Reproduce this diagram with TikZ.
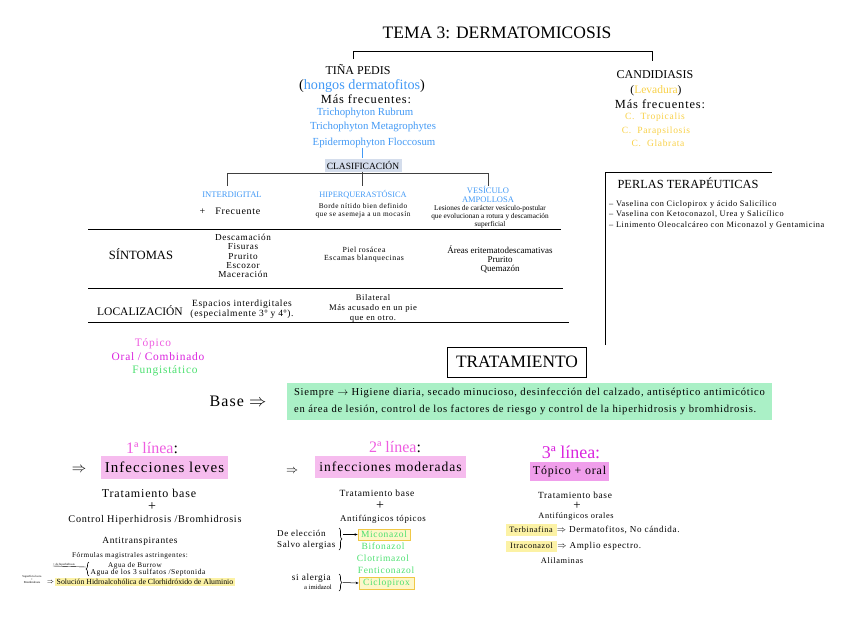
\documentclass[tikz,border=0pt]{standalone}
\usepackage{fontspec}
\setmainfont{Liberation Serif}
\usetikzlibrary{arrows.meta,positioning,calc,decorations.pathreplacing}
\definecolor{fungBlue}{RGB}{66,153,245}
\definecolor{levYellow}{RGB}{248,208,70}
\definecolor{lineMag}{RGB}{238,92,224}
\definecolor{oralMag}{RGB}{218,36,222}
\definecolor{drugGreen}{RGB}{76,224,112}
\definecolor{pinkBox}{RGB}{246,188,238}
\definecolor{baseGreen}{RGB}{170,240,198}
\definecolor{hiYellow}{RGB}{252,242,165}
\definecolor{boxYellow}{RGB}{240,200,70}
\definecolor{clasBox}{RGB}{212,221,236}
% plain size, and size with the loose tracking of the handout
\newcommand{\fsz}[1]{\fontsize{#1}{#1}\selectfont}
\newcommand{\fszb}[2]{\fontsize{#1}{#2}\selectfont}
\newcommand{\fsp}[1]{\fontsize{#1}{#1}\selectfont\addfontfeature{LetterSpace=7}}
\newcommand{\fspb}[2]{\fontsize{#1}{#2}\selectfont\addfontfeature{LetterSpace=7}}
\tikzset{dermpanel/.style={
  every node/.style={inner sep=0pt, align=center},
  hilite/.style={fill=pinkBox, inner sep=2pt},
  drug/.style={text=drugGreen, font=\fsp{9.5}},
  drugbox/.style={drug, draw=boxYellow, fill=hiYellow!60, line width=0.8pt, inner xsep=2pt, inner ysep=1.5pt},
  ybox/.style={fill=hiYellow, inner xsep=1.5pt, inner ysep=1.5pt},
  plussign/.style={font=\fsz{14}},
  tabline/.style={line width=0.9pt},
  link/.style={-{Stealth[length=3pt,width=2.5pt]}, line width=0.5pt},
  curly/.style={decorate, decoration={brace, amplitude=3pt}, line width=0.6pt},
}}

\begin{document}
\begin{tikzpicture}[x=1pt, y=-1pt, dermpanel]
\useasboundingbox (0,0) rectangle (848,616);

% ---- title and the two branches ----
\node[font=\fsz{17.5}] (tema) at (497,33) {TEMA 3: DERMATOMICOSIS};
\coordinate (legL) at (353,59);
\coordinate (legR) at (652,61);
\draw[line width=0.9pt] (legL) -- ++(0,-8) -| (legR);

% ---- tiña pedis ----
\node[font=\fsz{12}] (tina) at (358,70) {TIÑA PEDIS};
\node[font=\fsz{14.2}] (hongos) at (362,86) {(\textcolor{fungBlue}{hongos dermatofitos})};
\node[font=\fsp{12.4}] (masfrec) at (366,99) {Más frecuentes:};
\node[font=\fsz{10.8}, text=fungBlue] (rubrum) at (365,113) {Trichophyton Rubrum};
\node[font=\fsz{10.8}, text=fungBlue] (metagro) at (373,127) {Trichophyton Metagrophytes};
\node[font=\fsz{10.8}, text=fungBlue] (epider) at (374,143) {Epidermophyton Floccosum};

% ---- candidiasis ----
\node[font=\fsz{12}] (candi) at (655,75) {CANDIDIASIS};
\node[font=\fsz{11.5}] (levad) at (656,91) {(\textcolor{levYellow}{Levadura})};
\node[font=\fsp{12.4}] (masfrecC) at (660,104) {Más frecuentes:};
\node[font=\fsp{9.5}, text=levYellow] (tropic) at (655,117) {C.\ \ Tropicalis};
\node[font=\fsp{9.5}, text=levYellow] (paraps) at (656,131) {C.\ \ Parapsilosis};
\node[font=\fsp{9.5}, text=levYellow] (glabr) at (658,143) {C.\ \ Glabrata};

% ---- clasificación ----
\node[fill=clasBox, font=\fsz{9.5}, minimum width=77, minimum height=13] (clasif) at (363,165) {CLASIFICACIÓN};
\draw[fungBlue, line width=0.7pt] (clasif.north -| 362,0) -- ++(0,-10);
\coordinate (cL) at (227,186);
\coordinate (cR) at (488,186);
\draw[line width=0.9pt, black!75] (cL) -- ++(0,-13) -| (cR);
\draw[line width=0.9pt, black!75] (clasif.south -| 362,0) -- (362,186);

\node[font=\fsz{8.6}, text=fungBlue] (interd) at (232,195) {INTERDIGITAL};
\node[font=\fsp{10}] (frec) at (230,211) {+\quad Frecuente};
\node[font=\fsz{8.3}, text=fungBlue] (hiper) at (363,195) {HIPERQUERASTÓSICA};
\node[font={\fspb{7.3}{8}}] (borde) at (363,211) {Borde nítido bien definido\\que se asemeja a un mocasín};
\node[font={\fszb{8.5}{9}}, text=fungBlue] (vesic) at (488,194) {VESÍCULO\\AMPOLLOSA};
\node[font={\fszb{7.3}{8}}] (lesion) at (490,217) {Lesiones de carácter vesículo-postular\\que evolucionan a rotura y descamación\\superficial};

% ---- table: síntomas / localización ----
\draw[tabline] (88,229) -- (561,229);
\draw[tabline] (88,288) -- (563,288);
\draw[tabline] (88,322) -- (569,322);

\node[font=\fsz{12.6}] (sintomas) at (141,254) {SÍNTOMAS};
\node[font={\fspb{9.2}{9.3}}] (sint1) at (243,256) {Descamación\\Fisuras\\Prurito\\Escozor\\Maceración};
\node[font={\fspb{7.8}{8}}] (sint2) at (364,255) {Piel rosácea\\Escamas blanquecinas};
\node[font={\fszb{9}{9}}] (sint3) at (500,259) {Áreas eritematodescamativas\\Prurito\\Quemazón};

\node[font=\fsz{11.5}] (loca) at (140,311) {LOCALIZACIÓN};
\node[font={\fspb{9.5}{10}}] (loc1) at (242,309) {Espacios interdigitales\\(especialmente 3º y 4º).};
\node[font={\fspb{8.6}{10}}] (loc2) at (373,308) {Bilateral\\Más acusado en un pie\\que en otro.};

% ---- perlas terapéuticas ----
\coordinate (perTop) at (772,172);
\coordinate (perBot) at (605,345);
\draw[line width=0.8pt] (perBot) |- (perTop);
\node[font=\fsz{12.4}] (perlas) at (688,183) {PERLAS TERAPÉUTICAS};
\node[font=\fsp{8.3}, anchor=west] (perla1) at (609,205) {– Vaselina con Ciclopirox y ácido Salicílico};
\node[font=\fsp{8.3}, anchor=west] (perla2) at (609,215) {– Vaselina con Ketoconazol, Urea y Salicílico};
\node[font=\fsp{8.3}, anchor=west] (perla3) at (609,226) {– Linimento Oleocalcáreo con Miconazol y Gentamicina};

% ---- tratamiento ----
\node[font=\fsp{11.4}, text=lineMag] (topico) at (153,344) {Tópico};
\node[font=\fsp{11.4}, text=oralMag] (oral) at (158,357) {Oral / Combinado};
\node[font=\fsp{11.4}, text=drugGreen] (fungis) at (165,371) {Fungistático};
\node[draw, line width=0.8pt, font=\fsz{17.4}, minimum width=139, minimum height=30] (trat) at (517,362) {TRATAMIENTO};

\node[font=\fsp{16}] (base) at (238,401) {Base $\Rightarrow$};
\node[fill=baseGreen, font={\fspb{10.6}{17}}, align=left, minimum width=485, minimum height=37] (basebox) at (529.5,401.5)
  {Siempre $\rightarrow$ Higiene diaria, secado minucioso, desinfección del calzado, antiséptico antimicótico\\
   en área de lesión, control de los factores de riesgo y control de la hiperhidrosis y bromhidrosis.};

% ---- 1ª línea ----
\node[font=\fsz{16}] (lin1) at (152,448) {\textcolor{lineMag}{1ª línea}:};
\node[font=\fsz{14}] (imp1) at (79,470) {$\Rightarrow$};
\node[hilite, font=\fsp{15}, minimum width=127, minimum height=23] (leves) at (164.5,467.5) {Infecciones leves};
\node[font=\fsp{12}] (tb1) at (149,493) {Tratamiento base};
\node[plussign] (plus1) at (152,507) {+};
\node[font=\fsp{10.2}] (ctrl) at (155,520) {Control Hiperhidrosis /Bromhidrosis};
\node[font=\fsp{9.4}] (antit) at (140,541) {Antitranspirantes};
\node[font=\fsp{7.2}] (formul) at (130,556) {Fórmulas magistrales astringentes:};
\node[font=\fsp{7.2}] (burrow) at (135,566) {Agua de Burrow};
\node[font=\fsp{7.5}] (sulfat) at (148,572.5) {Agua de los 3 sulfatos /Septonida};
\draw[curly] (89,576) -- (89,562);
\node[font=\fsz{3}, anchor=south] (hiperlbl) at (64,566) {+ de hiperhidrosis};
\draw[line width=0.4pt] (hiperlbl.south west) -- (86,567);
\node[font={\fszb{3}{3.2}}] (tinylbl) at (32,579.5) {Superficial seca\\+\\Bromhidrosis};
\node[font=\fsz{6}] (imp1b) at (50.5,582) {$\Rightarrow$};
\node[ybox, font=\fsz{7.8}, minimum width=176, minimum height=8] (soluc) at (145,582) {Solución Hidroalcohólica de Clorhidróxido de Aluminio};

% ---- 2ª línea ----
\node[font=\fsz{16}] (lin2) at (395,447) {\textcolor{lineMag}{2ª línea}:};
\node[font=\fsz{12}] (imp2) at (292,471) {$\Rightarrow$};
\node[hilite, font=\fsp{13.6}, minimum width=151, minimum height=22] (moder) at (390.5,467) {infecciones moderadas};
\node[font=\fsp{9.5}] (tb2) at (377,493) {Tratamiento base};
\node[plussign] (plus2) at (380,506) {+};
\node[font=\fsp{8.9}] (antitop) at (383,519) {Antifúngicos tópicos};
\node[font=\fsp{9}, anchor=west] (eleccion) at (277,533) {De elección};
\node[font=\fsp{9}, anchor=west] (salvo) at (277,545) {Salvo alergias};
\node[drugbox, minimum width=52, minimum height=11] (mico) at (384,534.5) {Miconazol};
\node[drug] (bifo) at (383,546) {Bifonazol};
\node[drug] (clotri) at (383,558) {Clotrimazol};
\node[drug] (fenti) at (386,570) {Fenticonazol};
\node[drugbox, minimum width=55, minimum height=12] (ciclo) at (386.5,583) {Ciclopirox};
\node[font=\fsp{9.3}, anchor=east] (sialerg) at (331,578) {si alergia};
\node[font=\fsz{6.6}, anchor=east] (imidaz) at (332,587) {a imidazol};
\draw[curly] (339,528) -- (339,550);
\draw[curly] (339,574) -- (339,591);
\coordinate (br1) at (343,534.5);
\coordinate (br2) at (343,582.5);
\draw[link] (br1) -- (mico.west);
\draw[link] (br2) -- (ciclo.west);

% ---- 3ª línea ----
\node[font=\fsz{18}] (lin3) at (571,452) {\textcolor{oralMag}{3ª línea:}};
\node[hilite, fill=pinkBox!80!oralMag, font=\fsp{11.9}, minimum width=79, minimum height=19] (topor) at (569.5,471.5) {Tópico + oral};
\node[font=\fsp{9.4}] (tb3) at (575,495) {Tratamiento base};
\node[plussign, font=\fsz{13}] (plus3) at (577,505.5) {+};
\node[font=\fsp{8.3}] (antior) at (576,516.5) {Antifúngicos orales};
\node[ybox, font=\fsp{8.2}, minimum width=51, minimum height=12] (terbi) at (531,529.5) {Terbinafina};
\node[font=\fsp{9.1}, anchor=west] (terbiTx) at (terbi.east) {$\Rightarrow$ Dermatofitos, No cándida.};
\node[ybox, font=\fsp{8.2}, minimum width=51, minimum height=11] (itra) at (531.5,546) {Itraconazol};
\node[font=\fsp{9.1}, anchor=west] (itraTx) at (itra.east) {$\Rightarrow$ Amplio espectro.};
\node[font=\fsp{8.4}] (alil) at (562,561) {Alilaminas};
\end{tikzpicture}
\end{document}
